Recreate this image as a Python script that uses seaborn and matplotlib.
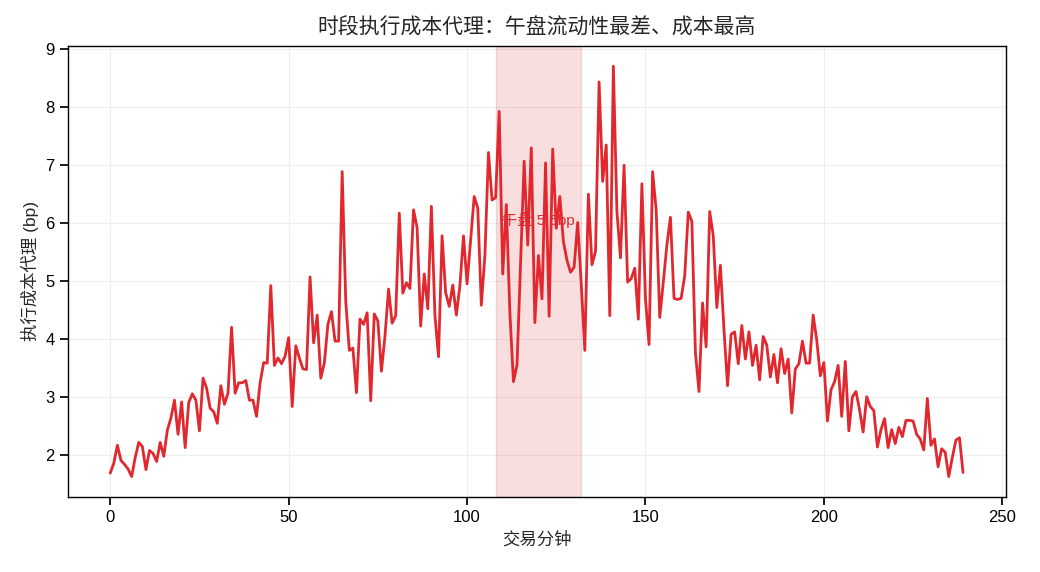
import matplotlib
matplotlib.use("Agg")
import matplotlib.pyplot as plt
import seaborn as sns
import pandas as pd
import numpy as np

# 每分钟执行成本 (bp)
cost_bp = [
    1.68, 1.85, 2.16, 1.90, 1.83, 1.75, 1.62, 1.95, 2.21, 2.14,
    1.74, 2.07, 2.02, 1.88, 2.21, 1.97, 2.42, 2.63, 2.94, 2.35,
    2.91, 2.12, 2.90, 3.05, 2.94, 2.41, 3.32, 3.15, 2.80, 2.74,
    2.54, 3.19, 2.87, 3.06, 4.20, 3.06, 3.24, 3.24, 3.28, 2.94,
    2.94, 2.66, 3.24, 3.59, 3.58, 4.92, 3.54, 3.67, 3.57, 3.70,
    4.02, 2.83, 3.88, 3.67, 3.48, 3.47, 5.07, 3.93, 4.41, 3.32,
    3.58, 4.25, 4.47, 3.96, 3.96, 6.89, 4.65, 3.80, 3.84, 3.07,
    4.34, 4.25, 4.45, 2.93, 4.43, 4.31, 3.44, 4.05, 4.86, 4.27,
    4.40, 6.17, 4.79, 4.97, 4.87, 6.23, 5.92, 4.22, 5.12, 4.52,
    6.29, 4.40, 3.69, 5.78, 4.80, 4.56, 4.93, 4.41, 4.92, 5.78,
    4.95, 5.70, 6.46, 6.26, 4.58, 5.44, 7.22, 6.40, 6.44, 7.93,
    5.12, 6.32, 4.45, 3.26, 3.55, 5.30, 7.07, 5.62, 7.30, 4.28,
    5.44, 4.69, 7.04, 4.39, 7.28, 5.91, 6.46, 5.68, 5.36, 5.15,
    5.24, 6.01, 4.95, 3.80, 6.50, 5.28, 5.51, 8.44, 6.72, 7.35,
    4.40, 8.71, 6.20, 5.40, 7.00, 4.98, 5.04, 5.22, 4.34, 6.68,
    4.69, 3.90, 6.89, 6.23, 4.37, 4.98, 5.62, 6.10, 4.70, 4.68,
    4.70, 5.09, 6.19, 6.03, 3.76, 3.09, 4.62, 3.86, 6.20, 5.78,
    4.54, 5.27, 4.16, 3.19, 4.08, 4.12, 3.57, 4.23, 3.65, 4.12,
    3.54, 3.89, 3.29, 4.04, 3.89, 3.34, 3.73, 3.24, 3.83, 3.40,
    3.65, 2.72, 3.48, 3.57, 3.96, 3.58, 3.58, 4.41, 3.98, 3.36,
    3.59, 2.58, 3.12, 3.26, 3.54, 2.66, 3.61, 2.41, 3.00, 3.09,
    2.77, 2.39, 3.00, 2.83, 2.76, 2.13, 2.43, 2.62, 2.12, 2.43,
    2.19, 2.47, 2.31, 2.59, 2.59, 2.58, 2.35, 2.27, 2.08, 2.97,
    2.16, 2.27, 1.79, 2.10, 2.04, 1.62, 1.95, 2.25, 2.29, 1.69,
]
minutes = list(range(len(cost_bp)))
noon_start, noon_end = 108, 132
noon_label = "午盘 5.6bp"

df = pd.DataFrame({"minute": minutes, "cost": cost_bp})

sns.set_theme(style="ticks")
plt.rcParams["font.family"] = ["Liberation Sans", "Noto Sans CJK SC", "DejaVu Sans"]
plt.rcParams["axes.unicode_minus"] = False

fig, ax = plt.subplots(figsize=(10.4, 5.72), dpi=100)
ax.axvspan(noon_start, noon_end, color="#d62728", alpha=0.15)
sns.lineplot(data=df, x="minute", y="cost", color="#e0282e", linewidth=2, ax=ax)
ax.text((noon_start + noon_end) / 2, 6.05, noon_label, color="#e0282e",
        ha="center", va="center", fontsize=11)

ax.grid(True, color="#eeeeee", linewidth=0.8)
for s in ax.spines.values():
    s.set_color("black")
    s.set_linewidth(1)
ax.tick_params(colors="black", labelsize=12)
ax.set_title("时段执行成本代理：午盘流动性最差、成本最高", fontsize=15, pad=9)
ax.set_xlabel("交易分钟", fontsize=12.5)
ax.set_ylabel("执行成本代理 (bp)", fontsize=12.5)

fig.subplots_adjust(left=0.065, right=0.967, top=0.92, bottom=0.131)
plt.savefig("out.png", dpi=100)
